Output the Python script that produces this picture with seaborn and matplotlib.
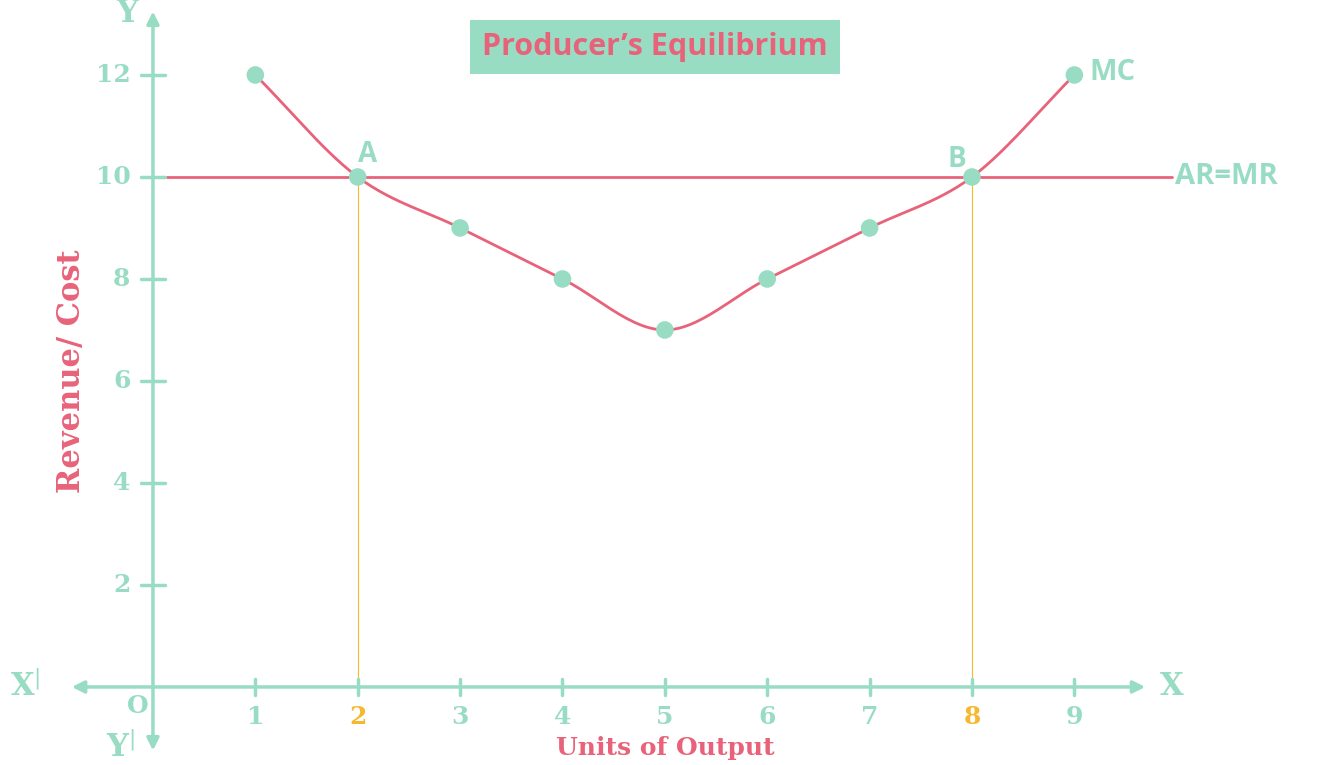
import numpy as np
import matplotlib
matplotlib.use("Agg")
import matplotlib.pyplot as plt
import seaborn as sns
import pandas as pd

units = [1, 2, 3, 4, 5, 6, 7, 8, 9]
mc = [12, 10, 9, 8, 7, 8, 9, 10, 12]
price = 10
y_ticks = [2, 4, 6, 8, 10, 12]

TEAL = "#98dcc4"
PINK = "#e8637a"
ORANGE = "#f5b82e"

sns.set_style("white")
fig = plt.figure(figsize=(13.17, 7.65), dpi=100)
ax = fig.add_axes([0, 0, 1, 1])
ax.set_xlim(-1.494, 11.37)
ax.set_ylim(-1.53, 13.47)
ax.axis("off")

x = np.array(units, float); y = np.array(mc, float)
px = np.concatenate([[2*x[0]-x[1]], x, [2*x[-1]-x[-2]]])
py = np.concatenate([[2*y[0]-y[1]], y, [2*y[-1]-y[-2]]])
cx, cy = [], []
t = np.linspace(0, 1, 30)
for i in range(1, len(px)-2):
    for arr, out in ((px, cx), (py, cy)):
        p0, p1, p2, p3 = arr[i-1:i+3]
        out.extend(0.5*((2*p1) + (-p0+p2)*t + (2*p0-5*p1+4*p2-p3)*t**2 + (-p0+3*p1-3*p2+p3)*t**3))
ax.plot(cx, cy, color=PINK, lw=2, zorder=2)

ax.plot([0.05, 9.95], [price, price], color=PINK, lw=2, zorder=2)

ax.annotate("", xy=(9.72, 0), xytext=(-0.82, 0),
            arrowprops=dict(arrowstyle="<|-|>", color=TEAL, lw=2.5, mutation_scale=18))
ax.annotate("", xy=(0, 13.3), xytext=(0, -1.3),
            arrowprops=dict(arrowstyle="<|-|>", color=TEAL, lw=2.5, mutation_scale=18))

for xe in (2, 8):
    ax.plot([xe, xe], [0, price], color=ORANGE, lw=0.8, zorder=1)

df = pd.DataFrame({"units": units, "mc": mc})
sns.scatterplot(data=df, x="units", y="mc", ax=ax, color=TEAL, s=160, edgecolor="none", zorder=3)

serif = dict(family="DejaVu Serif", fontweight="bold")
for u in units:
    ax.plot([u, u], [-0.15, 0.15], color=TEAL, lw=2.5)
    ax.text(u, -0.35, str(u), ha="center", va="top", fontsize=18,
            color=ORANGE if u in (2, 8) else TEAL, **serif)
for v in y_ticks:
    ax.plot([-0.12, 0.12], [v, v], color=TEAL, lw=2.5)
    ax.text(-0.22, v, str(v), ha="right", va="center", fontsize=18, color=TEAL, **serif)

ax.text(-0.15, -0.38, "O", ha="center", va="center", fontsize=18, color=TEAL, **serif)
ax.text(-1.25, 0, "X$^{|}$", ha="center", va="center", fontsize=22, color=TEAL, **serif)
ax.text(9.95, 0, "X", ha="center", va="center", fontsize=22, color=TEAL, **serif)
ax.text(-0.25, 13.2, "Y", ha="center", va="center", fontsize=22, color=TEAL, **serif)
ax.text(-0.32, -1.2, "Y$^{|}$", ha="center", va="center", fontsize=22, color=TEAL, **serif)

ax.text(5, -1.2, "Units of Output", ha="center", va="center", fontsize=18, color=PINK, **serif)
ax.text(-0.8, 6.2, "Revenue/ Cost", ha="center", va="center", rotation=90, fontsize=22, color=PINK, **serif)

sans = dict(family="Open Sans", fontweight="bold")
ax.text(2.1, 10.45, "A", ha="center", va="center", fontsize=20, color=TEAL, **sans)
ax.text(7.85, 10.35, "B", ha="center", va="center", fontsize=20, color=TEAL, **sans)
ax.text(9.15, 12.05, "MC", ha="left", va="center", fontsize=21, color=TEAL, **sans)
ax.text(9.98, 10, "AR=MR", ha="left", va="center", fontsize=21, color=TEAL, **sans)
ax.text(4.9, 12.55, "Producer’s Equilibrium", ha="center", va="center", fontsize=22,
        color=PINK, **sans,
        bbox=dict(boxstyle="square,pad=0.4", facecolor=TEAL, edgecolor="none"))

fig.savefig("out.png", dpi=100)
